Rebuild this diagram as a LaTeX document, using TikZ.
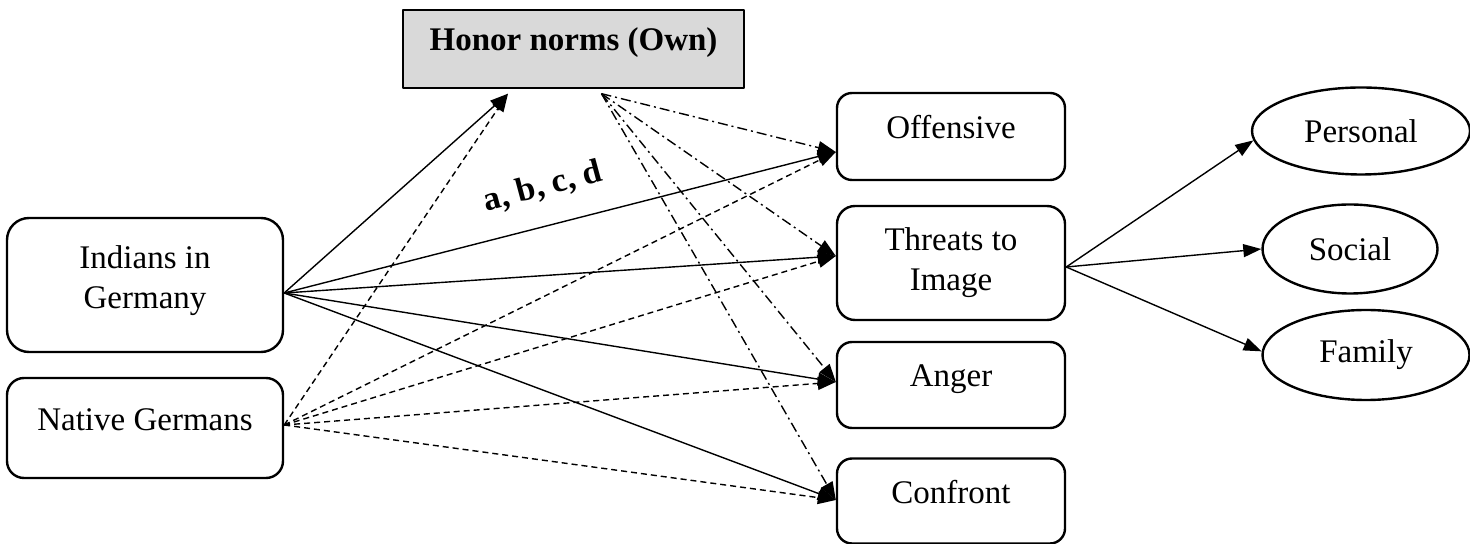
\documentclass[tikz,border=0pt]{standalone}
\usepackage{fontspec}
\setmainfont{Liberation Serif}
\usetikzlibrary{arrows.meta,shapes.geometric}
\begin{document}
\begin{tikzpicture}[x=0.5pt,y=-0.5pt,line join=round,>={Triangle[length=9pt,width=6.5pt]},
	font=\fontsize{16.5pt}{20pt}\selectfont,
	rbox/.style={draw,line width=1.2pt,rounded corners=7.5pt,minimum width=114pt,align=center,inner sep=0pt},
	oneline/.style={text height=12pt,text depth=10pt},
	oval/.style={draw,line width=1.2pt,ellipse,inner sep=0pt},
	link/.style={->,line width=0.7pt},
	nlink/.style={link,dash pattern=on 3pt off 2pt},
	hlink/.style={link,dash pattern=on 5pt off 2pt on 1pt off 2pt}]
	\useasboundingbox (0,0) rectangle (1470,544);
	% boxes
	\node[draw,line width=0.7pt,fill=black!15,minimum width=170.5pt,minimum height=39pt,oneline,font=\fontsize{16.5pt}{20pt}\selectfont\bfseries] (hon) at (573.5,49) {Honor norms (Own)};
	\node[rbox,minimum width=138pt,minimum height=67pt,rounded corners=11pt] (ind) at (145,285) {Indians in\\Germany\rule[-8pt]{0pt}{0pt}};
	\node[rbox,oneline,minimum width=138pt,minimum height=50pt,rounded corners=8.5pt] (nat) at (145,428) {Native Germans};
	\node[rbox,oneline,minimum height=43.5pt] (off) at (951,136.5) {Offensive};
	\node[rbox,minimum height=57pt,rounded corners=9pt] (thr) at (951,263) {Threats to\\Image};
	\node[rbox,oneline,minimum height=43pt] (ang) at (951,385) {Anger};
	\node[rbox,oneline,minimum height=42.5pt] (con) at (951,501) {Confront};
	\node[oval,minimum width=109pt,minimum height=43.5pt] (per) at (1361,131) {Personal};
	\node[oval,minimum width=87.5pt,minimum height=44.5pt] (soc) at (1350,249) {Social};
	\node[oval,minimum width=103.5pt,minimum height=45pt] (fam) at (1366,355) {Family};
	\node[rotate=15,font=\fontsize{17pt}{20pt}\selectfont\bfseries] (abcd) at (543,187) {a, b, c, d};
	% arrow ends
	\coordinate (indout) at ([yshift=-4pt]ind.east);
	\coordinate (natout) at ([yshift=1.5pt]nat.east);
	\coordinate (honin) at ([shift={(-32.75pt,-2.5pt)}]hon.south);
	\coordinate (honout) at ([shift={(14pt,-2.5pt)}]hon.south);
	\coordinate (offin) at ([yshift=-7.75pt]off.west);
	\coordinate (thrin) at ([yshift=3.5pt]thr.west);
	\coordinate (angin) at ([yshift=1.5pt]ang.west);
	\coordinate (conin) at ([yshift=0.5pt]con.west);
	\coordinate (throut) at ([yshift=-2pt]thr.east);
	% paths
	\foreach \t in {honin,offin,thrin,angin,conin}
	{\draw[link] (indout) -- (\t);
	\draw[nlink] (natout) -- (\t);}
	\foreach \t in {offin,thrin,angin,conin}
	\draw[hlink] (honout) -- (\t);
	\foreach \t/\a in {per/185,soc/180,fam/178}
	\draw[link] (throut) -- (\t.\a);
\end{tikzpicture}
\end{document}
